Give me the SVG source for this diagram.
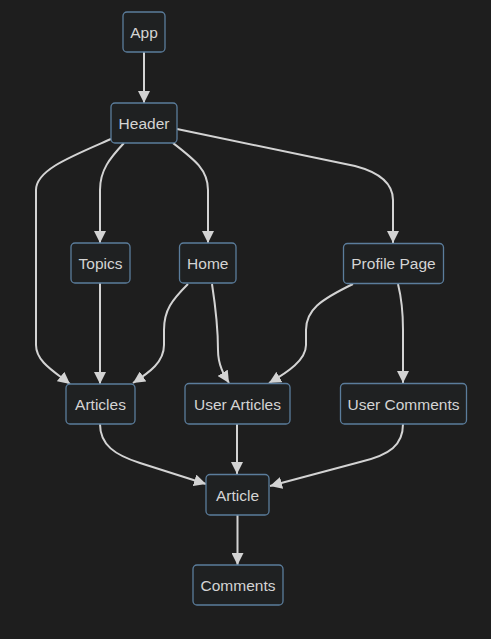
<svg xmlns="http://www.w3.org/2000/svg" width="491" height="639" viewBox="0 0 491 639">
<defs>
<marker id="arr" markerUnits="userSpaceOnUse" markerWidth="12" markerHeight="12" refX="12" refY="6" orient="auto" viewBox="0 0 12 12">
<path d="M0,0 L12,6 L0,12 z" fill="#d3d3d3"/>
</marker>
</defs>
<style>
.node rect{fill:#1f2122;stroke:#5b7d9c;stroke-width:1.3}
.node text{font-family:"Liberation Sans",Arial,sans-serif;font-size:15.5px;fill:#d4d4d4;text-anchor:middle;dominant-baseline:central}
.edges path{fill:none;stroke:#d3d3d3;stroke-width:2;marker-end:url(#arr)}
</style>
<rect width="491" height="639" fill="#1e1e1e"/>
<g class="edges">
<path d="M144,52 L144,103"/>
<path d="M111,139 C70,157 36,170 36,190 L36,345 C36,362 55,372 70,384"/>
<path d="M124,143 C110,158 100,170 100,190 L100,243"/>
<path d="M173,143 C195,160 208,170 208,190 L208,243"/>
<path d="M177,129 L355,166 Q393,176 393,200 L393,243"/>
<path d="M100,283 L100,384"/>
<path d="M188,284 C172,300 164,310 164,330 L164,345 C164,362 150,372 133,383"/>
<path d="M212,284 C216,310 218,330 218,350 C218,365 224,375 229,383"/>
<path d="M353,284 C320,300 306,310 306,330 L306,345 C306,360 288,372 269,383"/>
<path d="M398,284 C402,300 403,315 403,330 L403,383"/>
<path d="M100,424 C100,445 115,455 140,463 L206,484"/>
<path d="M237,424 L237,474"/>
<path d="M403,424 C403,445 390,455 360,462 L270,486"/>
<path d="M237.5,515 L237.5,565"/>
</g>
<g id="app" class="node"><rect x="123" y="12" width="42" height="40" rx="4"/><text x="144" y="32">App</text></g>
<g id="header" class="node"><rect x="111" y="103" width="66" height="40" rx="4"/><text x="144" y="123">Header</text></g>
<g id="topics" class="node"><rect x="71" y="243" width="59" height="40" rx="4"/><text x="100.5" y="263">Topics</text></g>
<g id="home" class="node"><rect x="179.5" y="243" width="56.5" height="40" rx="4"/><text x="207.8" y="263">Home</text></g>
<g id="profile" class="node"><rect x="343.5" y="243.5" width="100" height="40" rx="4"/><text x="393.5" y="263.5">Profile Page</text></g>
<g id="articles" class="node"><rect x="66" y="384" width="69" height="40" rx="4"/><text x="100.5" y="404">Articles</text></g>
<g id="userarticles" class="node"><rect x="185" y="383.5" width="105" height="40.5" rx="4"/><text x="237.5" y="404">User Articles</text></g>
<g id="usercomments" class="node"><rect x="340.5" y="383.5" width="126" height="40.5" rx="4"/><text x="403.5" y="404">User Comments</text></g>
<g id="article" class="node"><rect x="206" y="474.5" width="63" height="40.5" rx="4"/><text x="237.5" y="495">Article</text></g>
<g id="comments" class="node"><rect x="193" y="565" width="90" height="40" rx="4"/><text x="238" y="585">Comments</text></g>
</svg>
